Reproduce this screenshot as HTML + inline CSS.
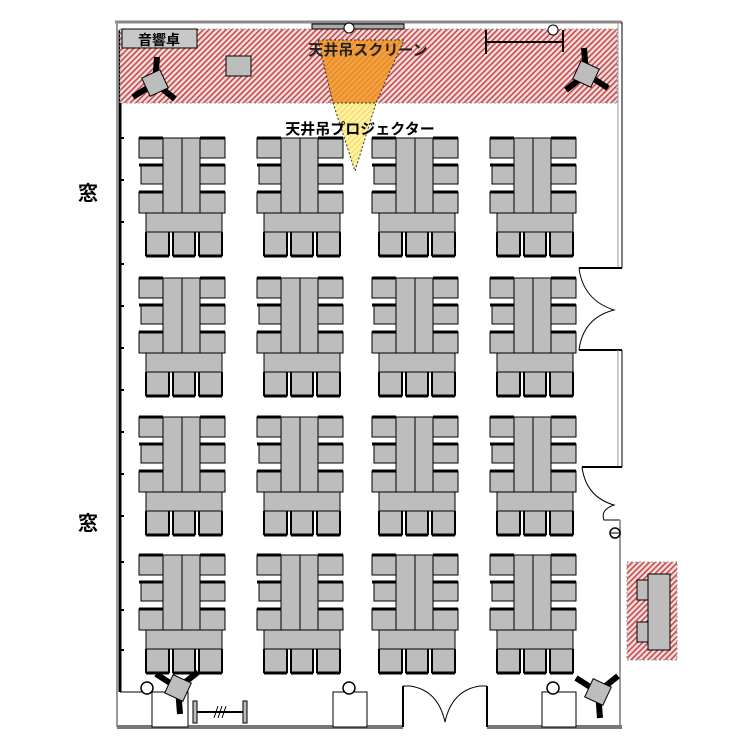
<!DOCTYPE html>
<html><head><meta charset="utf-8"><style>
html,body{margin:0;padding:0;background:#fff;width:750px;height:750px;overflow:hidden}
svg{display:block}
text{font-family:"Liberation Sans","Noto Sans CJK JP",sans-serif;font-weight:bold}
</style></head><body>
<svg width="750" height="750" viewBox="0 0 750 750" xmlns="http://www.w3.org/2000/svg">
<defs>
<pattern id="h" width="4" height="4" patternUnits="userSpaceOnUse" patternTransform="rotate(45)">
<rect width="4" height="4" fill="#f4dede"/><rect width="1.6" height="4" fill="#c84a4a"/>
</pattern>
<pattern id="ho" width="4" height="4" patternUnits="userSpaceOnUse" patternTransform="rotate(45)">
<rect width="4" height="4" fill="#f6a040"/><rect width="1.4" height="4" fill="#e08a2a"/>
</pattern>
<pattern id="hy" width="4" height="4" patternUnits="userSpaceOnUse" patternTransform="rotate(45)">
<rect width="4" height="4" fill="#fff3a0"/><rect width="1.2" height="4" fill="#efd870"/>
</pattern>
<g id="grp" stroke="#000" stroke-width="1">
 <!-- left chairs -->
 <rect x="0" y="0" width="24" height="20" fill="#bdbdbd"/>
 <rect x="2" y="27" width="22" height="19" fill="#bdbdbd"/>
 <rect x="0" y="54" width="24" height="21" fill="#bdbdbd"/>
 <line x1="0" y1="0" x2="24" y2="0" stroke-width="3"/>
 <line x1="0" y1="27" x2="24" y2="27" stroke-width="3"/>
 <line x1="0" y1="54" x2="24" y2="54" stroke-width="3"/>
 <!-- right chairs -->
 <rect x="61" y="0" width="25" height="20" fill="#bdbdbd"/>
 <rect x="61" y="27" width="25" height="19" fill="#bdbdbd"/>
 <rect x="61" y="54" width="25" height="21" fill="#bdbdbd"/>
 <line x1="61" y1="0" x2="86" y2="0" stroke-width="3"/>
 <line x1="61" y1="27" x2="86" y2="27" stroke-width="3"/>
 <line x1="61" y1="54" x2="86" y2="54" stroke-width="3"/>
 <!-- center table -->
 <rect x="24" y="0" width="37" height="75" fill="#bdbdbd"/>
 <line x1="43" y1="0" x2="43" y2="75"/>
 <!-- bottom table -->
 <rect x="7" y="75" width="76" height="19" fill="#bdbdbd"/>
 <!-- bottom chairs -->
 <rect x="7" y="94" width="23" height="24" fill="#bdbdbd"/>
 <rect x="34" y="94" width="22" height="24" fill="#bdbdbd"/>
 <rect x="60" y="94" width="23" height="24" fill="#bdbdbd"/>
 <line x1="7" y1="118" x2="30" y2="118" stroke-width="3"/>
 <line x1="34" y1="118" x2="56" y2="118" stroke-width="3"/>
 <line x1="60" y1="118" x2="83" y2="118" stroke-width="3"/>
 <line x1="7" y1="94" x2="7" y2="118" stroke-width="2"/><line x1="30" y1="94" x2="30" y2="118" stroke-width="2"/>
 <line x1="34" y1="94" x2="34" y2="118" stroke-width="2"/><line x1="56" y1="94" x2="56" y2="118" stroke-width="2"/>
 <line x1="60" y1="94" x2="60" y2="118" stroke-width="2"/><line x1="83" y1="94" x2="83" y2="118" stroke-width="2"/>
</g>
<g id="spk">
 <line x1="0" y1="0" x2="-22" y2="-14" stroke="#000" stroke-width="6"/>
 <line x1="0" y1="0" x2="20" y2="-16" stroke="#000" stroke-width="6"/>
 <line x1="0" y1="0" x2="2" y2="26" stroke="#000" stroke-width="6"/>
 <rect x="-10" y="-10" width="20" height="20" fill="#bdbdbd" stroke="#000" transform="rotate(25)"/>
</g>
</defs>

<!-- outer walls -->
<line x1="115" y1="22" x2="622" y2="22" stroke="#888" stroke-width="3"/>
<line x1="117" y1="22" x2="117" y2="727" stroke="#999" stroke-width="2"/>
<line x1="120" y1="30" x2="120" y2="692" stroke="#000" stroke-width="3"/>
<line x1="120" y1="692" x2="152" y2="692" stroke="#000" stroke-width="1"/>
<!-- window ticks -->
<g stroke="#000" stroke-width="2">
<line x1="120" y1="138" x2="124" y2="138"/><line x1="120" y1="180" x2="124" y2="180"/><line x1="120" y1="222" x2="124" y2="222"/>
<line x1="120" y1="264" x2="124" y2="264"/><line x1="120" y1="306" x2="124" y2="306"/><line x1="120" y1="348" x2="124" y2="348"/>
<line x1="120" y1="390" x2="124" y2="390"/><line x1="120" y1="432" x2="124" y2="432"/><line x1="120" y1="474" x2="124" y2="474"/>
<line x1="120" y1="516" x2="124" y2="516"/><line x1="120" y1="562" x2="124" y2="562"/><line x1="120" y1="610" x2="124" y2="610"/><line x1="120" y1="650" x2="124" y2="650"/>
</g>
<text x="88" y="200" font-size="20" text-anchor="middle" font-weight="normal">窓</text>
<text x="88" y="530" font-size="20" text-anchor="middle" font-weight="normal">窓</text>

<!-- right wall -->
<g stroke="#000" fill="none">
<line x1="618" y1="22" x2="618" y2="268" stroke="#999"/><line x1="622" y1="22" x2="622" y2="268" stroke="#000"/>
<line x1="579" y1="268" x2="622" y2="268" stroke-width="2"/>
<path d="M579 268 Q583 300 614 310 Q583 318 579 350" stroke-width="1"/>
<line x1="579" y1="350" x2="622" y2="350" stroke-width="2"/>
<line x1="618" y1="350" x2="618" y2="467" stroke="#999"/><line x1="622" y1="350" x2="622" y2="467"/>
<line x1="582" y1="467" x2="622" y2="467" stroke-width="2"/>
<path d="M582 467 Q586 497 614 505 Q600 510 604 520 L620 520" stroke-width="1"/>
<line x1="620" y1="520" x2="620" y2="727" stroke="#999" stroke-width="2"/>
</g>
<circle cx="615" cy="533" r="5" fill="#fff" stroke="#000" stroke-width="1.5"/>
<line x1="611" y1="533" x2="619" y2="533" stroke="#000"/>

<!-- bottom wall -->
<line x1="117" y1="727" x2="403" y2="727" stroke="#777" stroke-width="4"/>
<line x1="487" y1="727" x2="622" y2="727" stroke="#777" stroke-width="4"/>
<g stroke="#000" fill="none">
<line x1="403" y1="686" x2="403" y2="727" stroke-width="2"/>
<line x1="487" y1="686" x2="487" y2="727" stroke-width="2"/>
<line x1="403" y1="686" x2="410" y2="686" stroke-width="1"/>
<line x1="480" y1="686" x2="487" y2="686" stroke-width="1"/>
<path d="M410 686 Q438 690 445 722 Q452 690 480 686"/>
<rect x="152" y="692" width="36" height="35" fill="#fff"/>
<rect x="333" y="692" width="34" height="35" fill="#fff"/>
<rect x="542" y="692" width="34" height="35" fill="#fff"/>
</g>
<!-- rack -->
<rect x="193" y="701" width="4" height="22" fill="#bdbdbd" stroke="#000"/>
<rect x="243" y="701" width="4" height="22" fill="#bdbdbd" stroke="#000"/>
<line x1="197" y1="712" x2="243" y2="712" stroke="#000" stroke-width="2"/>
<path d="M214 718 L218 706 M218 718 L222 706 M222 718 L226 706" stroke="#000"/>

<!-- stage -->
<rect x="120" y="29" width="497" height="74" fill="url(#h)" stroke="#999" stroke-dasharray="2,2"/>
<rect x="122" y="29" width="75" height="19" fill="#c8c8c8" stroke="#000"/>
<text x="159" y="45" font-size="14" text-anchor="middle">音響卓</text>
<rect x="226" y="56" width="25" height="20" fill="#bdbdbd" stroke="#000"/>
<rect x="312" y="24" width="92" height="5" fill="#aaa" stroke="#000"/>
<circle cx="349" cy="28" r="5" fill="#fff" stroke="#000"/>
<polygon points="318,40 404,40 376,103 333,103" fill="url(#ho)" stroke="#333" stroke-dasharray="2,2"/>
<polygon points="333,103 376,103 355,171" fill="url(#hy)" stroke="#333" stroke-dasharray="2,2"/>
<text x="368" y="55" font-size="15" text-anchor="middle" fill="#222">天井吊スクリーン</text>
<text x="360" y="134" font-size="15" text-anchor="middle">天井吊プロジェクター</text>
<!-- top right fixture -->
<g stroke="#000" stroke-width="2">
<line x1="486" y1="30" x2="486" y2="54"/><line x1="486" y1="42" x2="563" y2="42"/><line x1="563" y1="30" x2="563" y2="52"/>
</g>
<circle cx="553" cy="30" r="5" fill="#fff" stroke="#000"/>

<!-- speakers -->
<use href="#spk" transform="translate(155,83) rotate(180) scale(-1,1)"/>
<use href="#spk" transform="translate(586,74) rotate(180)"/>
<use href="#spk" transform="translate(178,688)"/>
<use href="#spk" transform="translate(598,692)"/>
<circle cx="147" cy="688" r="6" fill="#fff" stroke="#000" stroke-width="1.5"/>
<circle cx="349" cy="688" r="6" fill="#fff" stroke="#000" stroke-width="1.5"/>
<circle cx="553" cy="688" r="6" fill="#fff" stroke="#000" stroke-width="1.5"/>

<!-- table groups -->
<use href="#grp" x="139" y="138"/><use href="#grp" x="257" y="138"/><use href="#grp" x="372" y="138"/><use href="#grp" x="490" y="138"/>
<use href="#grp" x="139" y="278"/><use href="#grp" x="257" y="278"/><use href="#grp" x="372" y="278"/><use href="#grp" x="490" y="278"/>
<use href="#grp" x="139" y="417"/><use href="#grp" x="257" y="417"/><use href="#grp" x="372" y="417"/><use href="#grp" x="490" y="417"/>
<use href="#grp" x="139" y="555"/><use href="#grp" x="257" y="555"/><use href="#grp" x="372" y="555"/><use href="#grp" x="490" y="555"/>

<!-- reception outside -->
<rect x="627" y="562" width="50" height="98" fill="url(#h)" stroke="#999" stroke-dasharray="2,2"/>
<rect x="648" y="574" width="22" height="76" fill="#bdbdbd" stroke="#000"/>
<rect x="637" y="580" width="11" height="20" fill="#bdbdbd" stroke="#000"/>
<rect x="637" y="622" width="11" height="20" fill="#bdbdbd" stroke="#000"/>
</svg>
</body></html>
